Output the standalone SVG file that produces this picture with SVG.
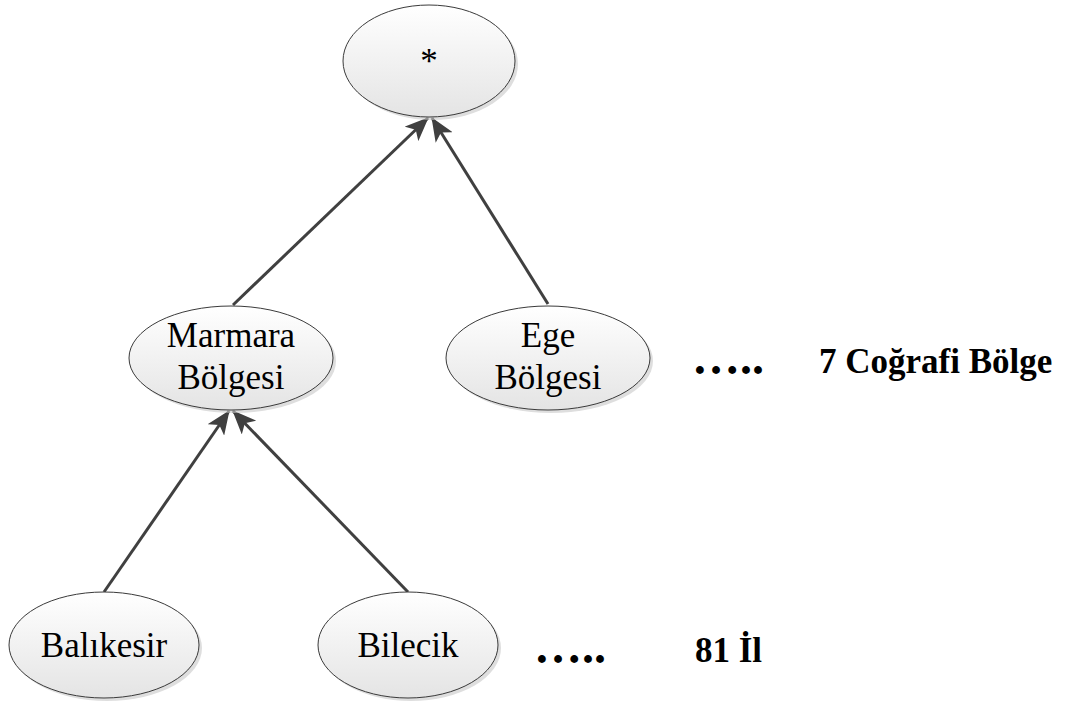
<svg xmlns="http://www.w3.org/2000/svg" width="1070" height="705" viewBox="0 0 1070 705">
<defs>
<linearGradient id="g" x1="0" y1="0" x2="0" y2="1">
<stop offset="0" stop-color="#ffffff"/>
<stop offset="1" stop-color="#e4e4e4"/>
</linearGradient>
<marker id="ah" markerWidth="24" markerHeight="20" refX="23" refY="10" orient="auto" markerUnits="userSpaceOnUse" viewBox="0 0 24 20">
<path d="M0,0 L24,10 L0,20 L6,10 Z" fill="#404040"/>
</marker>
<style>
.node ellipse.sh{fill:#c8c8c8;opacity:0.6}
.node ellipse.b{fill:url(#g);stroke:#3a3a3a;stroke-width:1}
.t{font-family:"Liberation Serif","Times New Roman",serif;font-size:35px;fill:#000;text-anchor:middle}
.bt{font-family:"Liberation Serif","Times New Roman",serif;font-size:35px;font-weight:bold;fill:#000}
.dots{font-family:"Liberation Serif","Times New Roman",serif;font-size:48px;font-weight:bold;fill:#000}
.c line{stroke:#404040;stroke-width:3;marker-end:url(#ah)}
</style>
</defs>
<rect width="1070" height="705" fill="#fff"/>
<g class="c" id="connectors">
<line x1="233" y1="305" x2="428" y2="118"/>
<line x1="548" y1="304" x2="432" y2="118"/>
<line x1="104" y1="592" x2="229" y2="411"/>
<line x1="408" y1="592" x2="233" y2="411"/>
</g>
<g class="node" id="n-root">
<ellipse class="sh" cx="432" cy="64" rx="86" ry="56"/>
<ellipse class="b" cx="429" cy="61" rx="86" ry="56"/>
<text class="t" x="429" y="73">*</text>
</g>
<g class="node" id="n-marmara">
<ellipse class="sh" cx="234" cy="361" rx="102" ry="52"/>
<ellipse class="b" cx="231" cy="358" rx="102" ry="52"/>
<text class="t" x="231" y="347">Marmara</text>
<text class="t" x="231" y="389">Bölgesi</text>
</g>
<g class="node" id="n-ege">
<ellipse class="sh" cx="551" cy="361" rx="102" ry="52"/>
<ellipse class="b" cx="548" cy="358" rx="102" ry="52"/>
<text class="t" x="548" y="347">Ege</text>
<text class="t" x="548" y="389">Bölgesi</text>
</g>
<g class="node" id="n-balikesir">
<ellipse class="sh" cx="107" cy="648" rx="95" ry="53"/>
<ellipse class="b" cx="104" cy="645" rx="95" ry="53"/>
<text class="t" x="104" y="657">Balıkesir</text>
</g>
<g class="node" id="n-bilecik">
<ellipse class="sh" cx="411" cy="648" rx="90" ry="53"/>
<ellipse class="b" cx="408" cy="645" rx="90" ry="53"/>
<text class="t" x="408" y="657">Bilecik</text>
</g>
<text class="dots" x="692" y="374">…..</text>
<text class="dots" x="534" y="663">…..</text>
<text class="bt" x="819" y="373">7 Coğrafi Bölge</text>
<text class="bt" x="695" y="662">81 İl</text>
</svg>
